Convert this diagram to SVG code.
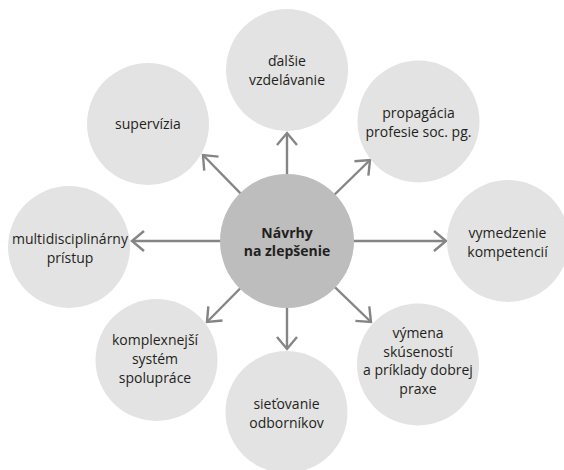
<svg xmlns="http://www.w3.org/2000/svg" width="564" height="470" viewBox="0 0 564 470">
<defs>
<style>
.leaf{fill:#e3e3e3}
.hub{fill:#bdbdbd}
.t{font-family:"Open Sans","Noto Sans",sans-serif;font-size:14px;fill:#231f20;text-anchor:middle}
.tb{font-family:"Open Sans","Noto Sans",sans-serif;font-size:14px;font-weight:bold;fill:#231f20;text-anchor:middle}
.c{stroke:#858585;stroke-width:2.4;fill:none}
</style>
<marker id="arr" markerUnits="userSpaceOnUse" viewBox="-16 -14 20 28" refX="0" refY="0" markerWidth="20" markerHeight="28" orient="auto" overflow="visible">
<path d="M-12,-10 L0,0 L-12,10" fill="none" stroke="#858585" stroke-width="2.4"/>
</marker>
</defs>
<rect width="564" height="470" fill="#ffffff"/>
<g id="connectors">
<line class="c" x1="287" y1="241" x2="287" y2="133" marker-end="url(#arr)"/>
<line class="c" x1="287" y1="241" x2="370" y2="160" marker-end="url(#arr)"/>
<line class="c" x1="287" y1="241" x2="446" y2="241" marker-end="url(#arr)"/>
<line class="c" x1="287" y1="241" x2="371" y2="322" marker-end="url(#arr)"/>
<line class="c" x1="287" y1="241" x2="287" y2="349" marker-end="url(#arr)"/>
<line class="c" x1="287" y1="241" x2="207" y2="322" marker-end="url(#arr)"/>
<line class="c" x1="287" y1="241" x2="132" y2="241" marker-end="url(#arr)"/>
<line class="c" x1="287" y1="241" x2="203" y2="155" marker-end="url(#arr)"/>
</g>
<g id="hub">
<circle class="hub" cx="287" cy="241" r="67"/>
<text class="tb" x="287" y="238">Návrhy</text>
<text class="tb" x="287" y="256">na zlepšenie</text>
</g>
<g id="node-dalsie">
<circle class="leaf" cx="287" cy="70" r="61"/>
<text class="t" x="287" y="66">ďalšie</text>
<text class="t" x="287" y="85">vzdelávanie</text>
</g>
<g id="node-propagacia">
<circle class="leaf" cx="418.5" cy="121.5" r="61"/>
<text class="t" x="418.5" y="118">propagácia</text>
<text class="t" x="418.5" y="137">profesie soc. pg.</text>
</g>
<g id="node-vymedzenie">
<circle class="leaf" cx="508" cy="241" r="61"/>
<text class="t" x="507.5" y="238">vymedzenie</text>
<text class="t" x="507.5" y="257">kompetencií</text>
</g>
<g id="node-vymena">
<circle class="leaf" cx="418" cy="364.5" r="61"/>
<text class="t" x="418" y="338">výmena</text>
<text class="t" x="418" y="356.5">skúseností</text>
<text class="t" x="418" y="375">a príklady dobrej</text>
<text class="t" x="418" y="393.5">praxe</text>
</g>
<g id="node-sietovanie">
<circle class="leaf" cx="286.5" cy="412" r="61"/>
<text class="t" x="286.5" y="409">sieťovanie</text>
<text class="t" x="286.5" y="428">odborníkov</text>
</g>
<g id="node-komplexnejsi">
<circle class="leaf" cx="156.5" cy="360" r="61"/>
<text class="t" x="155" y="345">komplexnejší</text>
<text class="t" x="155" y="364">systém</text>
<text class="t" x="155" y="383">spolupráce</text>
</g>
<g id="node-multi">
<circle class="leaf" cx="69" cy="247" r="61"/>
<text class="t" x="70" y="244">multidisciplinárny</text>
<text class="t" x="70" y="263">prístup</text>
</g>
<g id="node-supervizia">
<circle class="leaf" cx="148" cy="124" r="61"/>
<text class="t" x="148" y="129">supervízia</text>
</g>
</svg>
